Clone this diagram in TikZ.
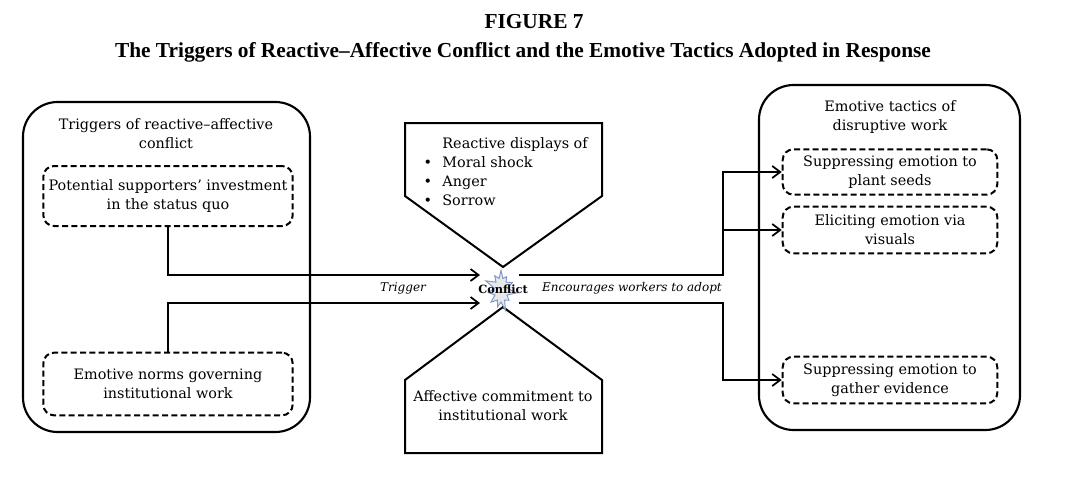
\documentclass[tikz,border=0pt]{standalone}
\usepackage{fontspec}
\setmainfont{DejaVu Serif}
\newfontfamily\titlefont[Ligatures=TeX]{Liberation Serif}
\usetikzlibrary{arrows, arrows.meta}
\usetikzlibrary{positioning}
\usetikzlibrary{calc}
\usetikzlibrary{shapes.symbols}
\definecolor{burstblue}{RGB}{120,150,205}

\begin{document}
\begin{tikzpicture}[x=0.75pt, y=-0.75pt,
	txt/.style={font=\fontsize{10.8}{14.2}\selectfont, align=center},
	outerbox/.style={draw, line width=1.6pt, rounded corners=26pt},
	dashbox/.style={draw, line width=1.5pt, dash pattern=on 4.5pt off 2.5pt, rounded corners=8pt, txt},
	link/.style={line width=1.3pt},
	arrow/.style={link, -{Straight Barb[length=6pt, width=9pt, line width=1.3pt]}}]
	\useasboundingbox (0,0) rectangle (1068,486);
	
	% Title
	\node[font=\titlefont\fontsize{16}{18}\selectfont\bfseries] (fig) at (534,22) {FIGURE 7};
	\node[font=\titlefont\fontsize{16}{18}\selectfont\bfseries] (title) at (523,52) {The Triggers of Reactive–Affective Conflict and the Emotive Tactics Adopted in Response};
	
	% Left group
	\draw[outerbox] (23,102) rectangle (310,432);
	\node[txt] (trighead) at (166,134) {Triggers of reactive–affective\\conflict};
	\node[dashbox, minimum width=187pt, minimum height=45pt] (trigA) at (168,196) {Potential supporters' investment\\in the status quo};
	\node[dashbox, minimum width=187pt, minimum height=47pt] (trigB) at (168,384) {Emotive norms governing\\institutional work};
	
	% Pentagons
	\draw[link, line width=1.5pt] (405,123) -- (602,123) -- (602,196) -- (503,267) -- (405,196) -- cycle;
	\draw[link, line width=1.5pt] (503,307) -- (602,380) -- (602,453) -- (405,453) -- (405,380) -- cycle;
	\node[txt, align=left, anchor=north west] (displays) at (419,133) {%
		\makebox[14pt][l]{}Reactive displays of\\
		\makebox[14pt][l]{\textbullet}Moral shock\\
		\makebox[14pt][l]{\textbullet}Anger\\
		\makebox[14pt][l]{\textbullet}Sorrow};
	\node[txt] (commit) at (503,406) {Affective commitment to\\institutional work};
	
	% Conflict
	\node[starburst, starburst points=11, starburst point height=8pt, fill=gray!18, draw=burstblue, line width=0.7pt, minimum width=26pt, minimum height=34pt, inner sep=0pt] (burst) at (501,290) {};
	\node[font=\fontsize{8.5}{10}\selectfont\bfseries] (conflict) at (503,289) {Conflict};
	\coordinate (inA) at (480,275);
	\coordinate (inB) at (480,303);
	\coordinate (outA) at (519,275);
	\coordinate (outB) at (519,303);
	\coordinate (jA) at (723,275);
	\coordinate (jB) at (723,303);
	
	% Right group
	\draw[outerbox] (759,85) rectangle (1020,430);
	\node[txt] (tachead) at (890,117) {Emotive tactics of\\disruptive work};
	\node[dashbox, minimum width=161pt, minimum height=34pt] (tacA) at (890,172) {Suppressing emotion to\\plant seeds};
	\node[dashbox, minimum width=161pt, minimum height=35pt] (tacB) at (890,230) {Eliciting emotion via\\visuals};
	\node[dashbox, minimum width=161pt, minimum height=35pt] (tacC) at (890,380) {Suppressing emotion to\\gather evidence};
	
	% Connectors
	\draw[arrow] (trigA.south) |- (inA);
	\draw[arrow] (trigB.north) |- (inB);
	\draw[arrow] (outA) -- (jA) |- (tacA.west);
	\draw[arrow] (jA |- tacB.west) -- (tacB.west);
	\draw[arrow] (outB) -- (jB) |- (tacC.west);
	
	% Labels
	\node[font=\fontsize{9}{11}\selectfont\itshape] (trig) at (403,288) {Trigger};
	\node[font=\fontsize{9}{11}\selectfont\itshape] (enc) at (632,288) {Encourages workers to adopt};
\end{tikzpicture}
\end{document}
